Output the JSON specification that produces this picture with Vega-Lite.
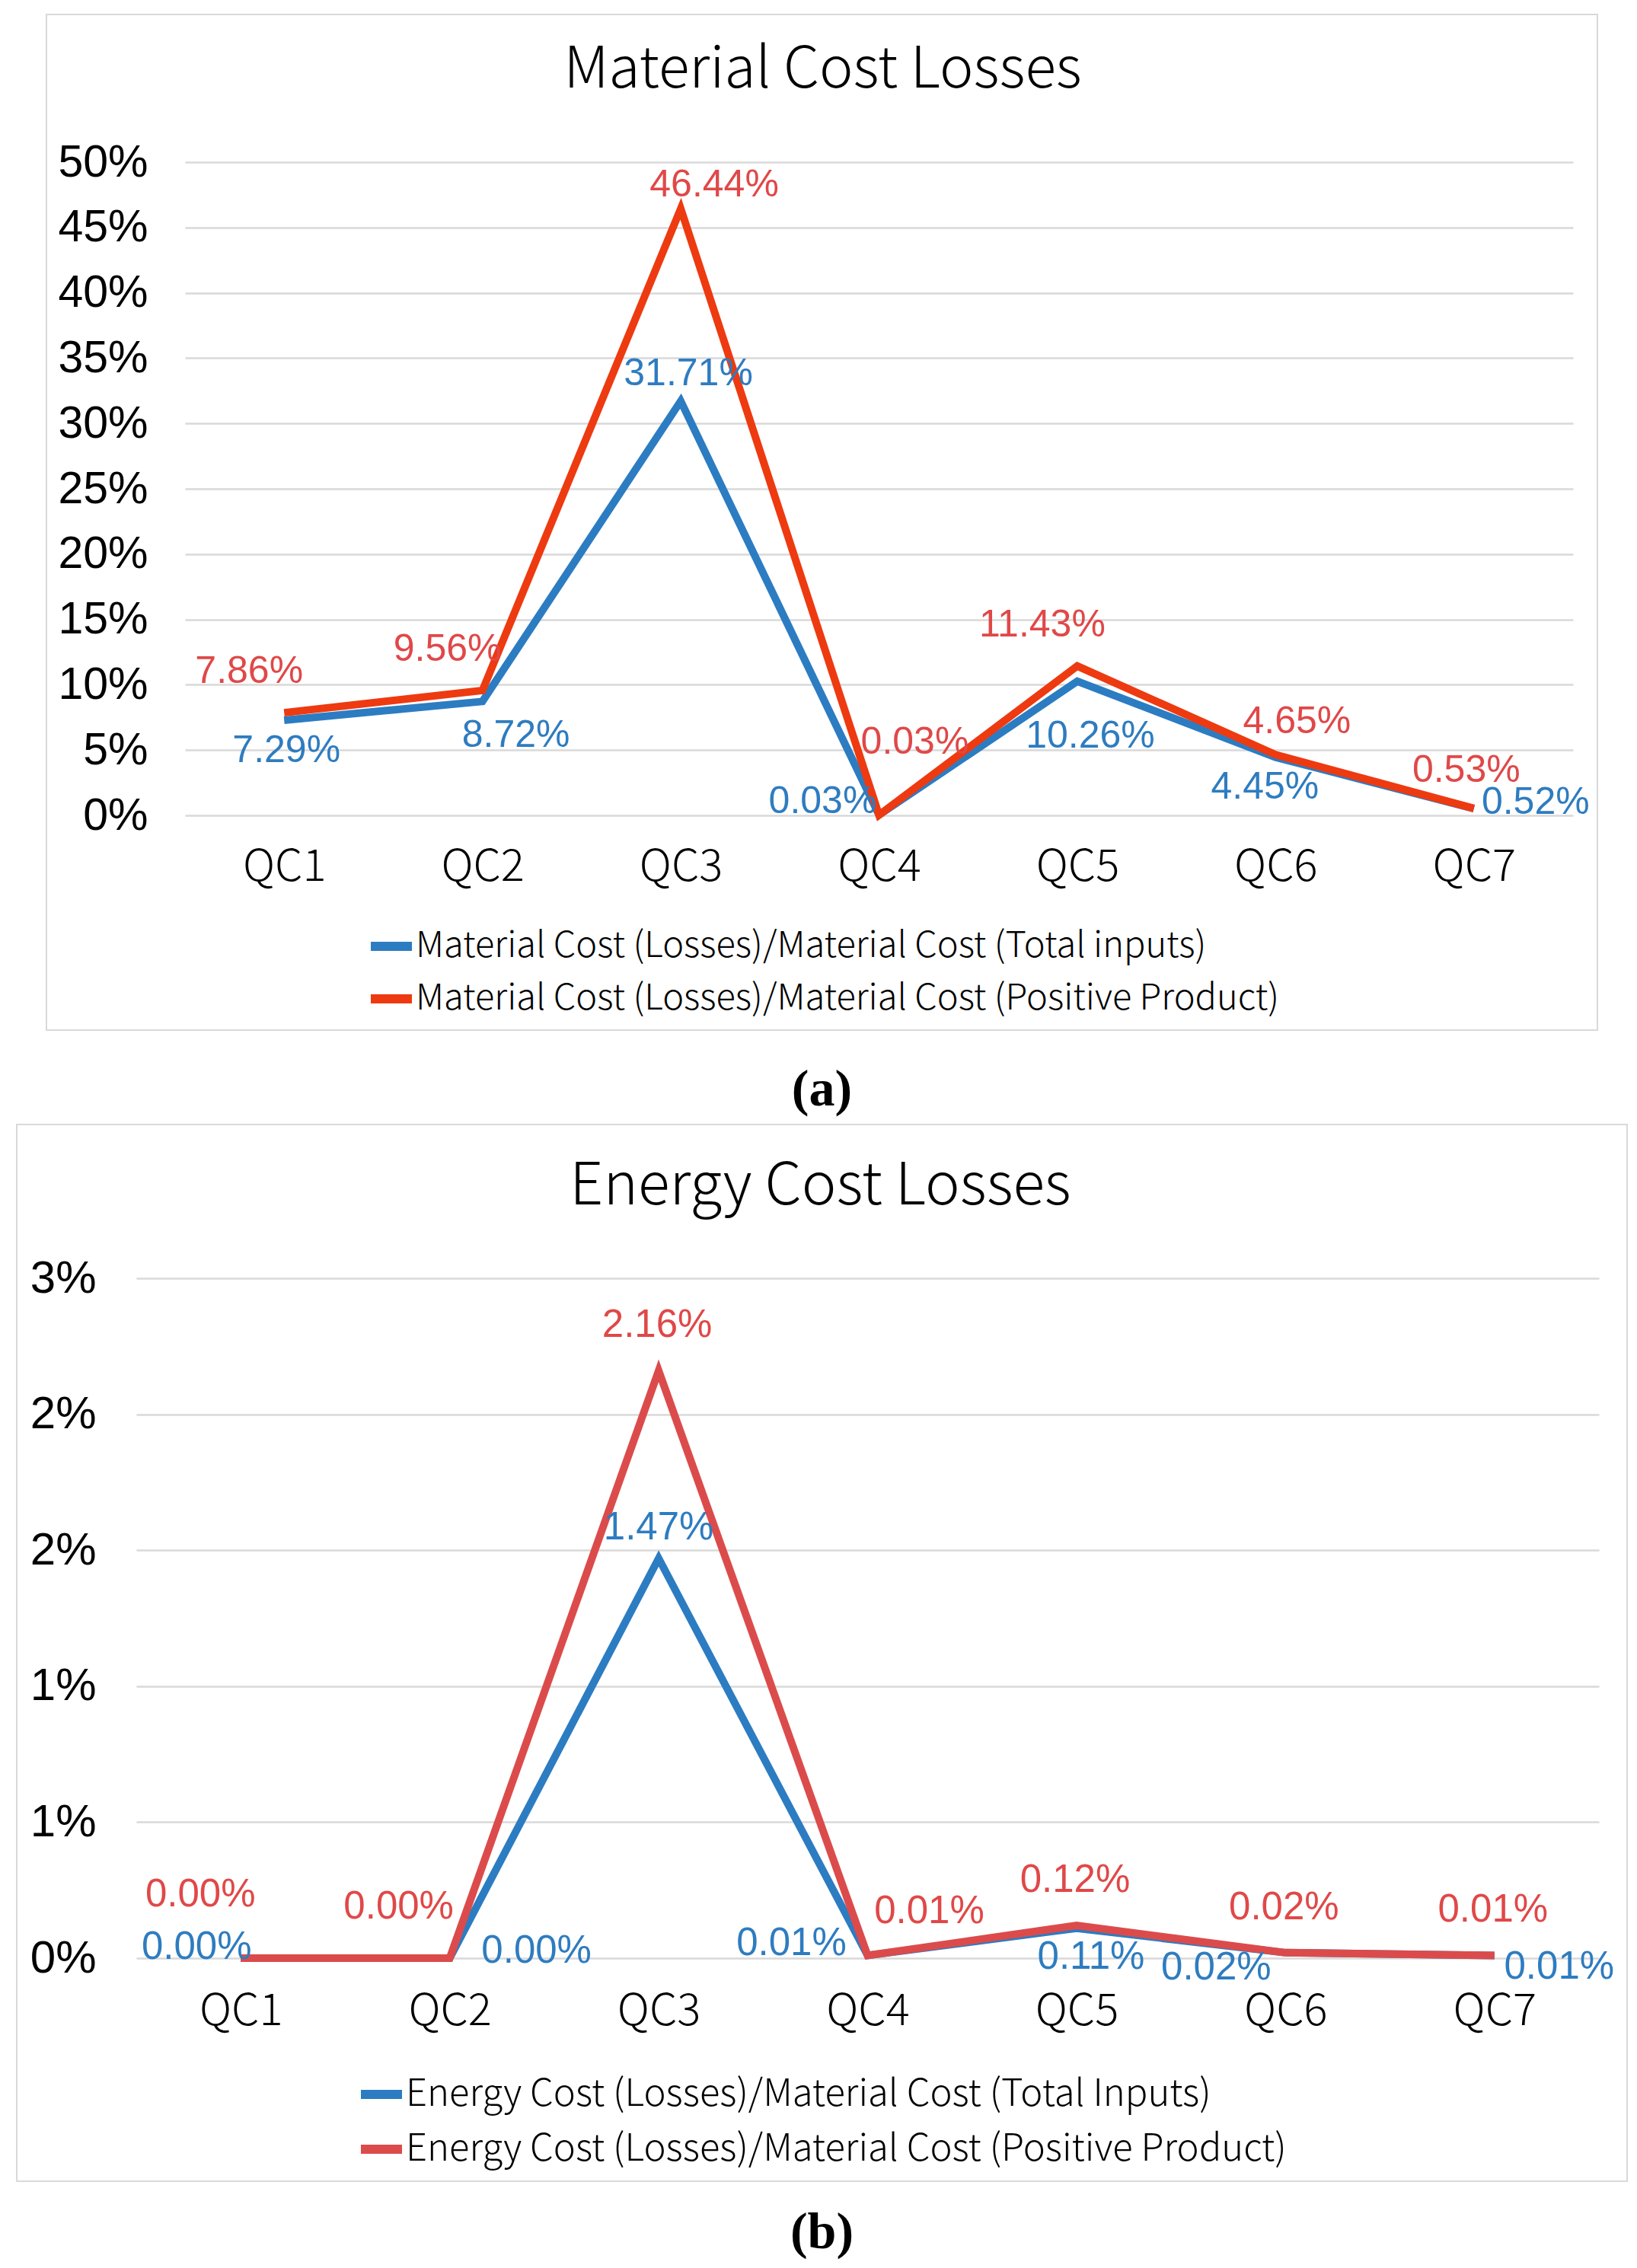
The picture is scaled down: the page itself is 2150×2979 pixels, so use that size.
{
  "$schema": "https://vega.github.io/schema/vega-lite/v6.json",
  "background": "white",
  "padding": {"left": 21, "top": 18, "right": 0, "bottom": 0},
  "config": {
    "view": {"stroke": "#D9D9D9", "strokeWidth": 2},
    "axis": {"domain": false, "ticks": false, "tickSize": 0, "gridColor": "#D9D9D9", "gridWidth": 2.5, "title": null, "labelColor": "#000000"}
  },
  "center": true,
  "spacing": 10,
  "resolve": {"scale": {"color": "independent"}, "legend": {"color": "independent"}},
  "vconcat": [
    {
      "title": {"text": "(a)", "orient": "bottom", "font": "Liberation Serif", "fontWeight": "bold", "fontSize": 68, "color": "#000000", "baseline": "middle", "offset": 78, "anchor": "middle"},
      "vconcat": [
        {
          "width": 2037,
          "height": 1334,
          "data": {"values": [
            {"qc": "QC1", "series": "Material Cost (Losses)/Material Cost (Total inputs)", "v": 0.0729},
            {"qc": "QC2", "series": "Material Cost (Losses)/Material Cost (Total inputs)", "v": 0.0872},
            {"qc": "QC3", "series": "Material Cost (Losses)/Material Cost (Total inputs)", "v": 0.3171},
            {"qc": "QC4", "series": "Material Cost (Losses)/Material Cost (Total inputs)", "v": 0.0003},
            {"qc": "QC5", "series": "Material Cost (Losses)/Material Cost (Total inputs)", "v": 0.1026},
            {"qc": "QC6", "series": "Material Cost (Losses)/Material Cost (Total inputs)", "v": 0.0445},
            {"qc": "QC7", "series": "Material Cost (Losses)/Material Cost (Total inputs)", "v": 0.0052},
            {"qc": "QC1", "series": "Material Cost (Losses)/Material Cost (Positive Product)", "v": 0.0786},
            {"qc": "QC2", "series": "Material Cost (Losses)/Material Cost (Positive Product)", "v": 0.0956},
            {"qc": "QC3", "series": "Material Cost (Losses)/Material Cost (Positive Product)", "v": 0.4644},
            {"qc": "QC4", "series": "Material Cost (Losses)/Material Cost (Positive Product)", "v": 0.0003},
            {"qc": "QC5", "series": "Material Cost (Losses)/Material Cost (Positive Product)", "v": 0.1143},
            {"qc": "QC6", "series": "Material Cost (Losses)/Material Cost (Positive Product)", "v": 0.0465},
            {"qc": "QC7", "series": "Material Cost (Losses)/Material Cost (Positive Product)", "v": 0.0053}
          ]},
          "encoding": {
            "x": {"field": "qc", "type": "ordinal", "title": "Material Cost Losses", "scale": {"type": "point", "range": [182, 2005], "padding": 0.5}, "axis": {"orient": "bottom", "offset": -282, "labelPadding": 68, "labelBaseline": "middle", "labelAngle": 0, "labelFont": "Noto Sans CJK SC", "labelFontWeight": 300, "labelFontSize": 58, "grid": false, "titleX": 1019, "titleY": -980, "titleAngle": 0, "titleAlign": "center", "titleBaseline": "middle", "titleFont": "Noto Sans CJK SC", "titleFontSize": 75, "titleFontWeight": 300, "titleColor": "#000000"}},
            "y": {"field": "v", "type": "quantitative", "scale": {"domain": [0, 0.5], "range": [1052, 194], "nice": false}, "axis": {"values": [0, 0.05, 0.1, 0.15, 0.2, 0.25, 0.3, 0.35, 0.4, 0.45, 0.5], "format": ".0%", "offset": -133, "labelPadding": 0, "labelFont": "Liberation Sans", "labelFontSize": 59, "grid": true}}
          },
          "layer": [
            {"mark": {"type": "line", "strokeWidth": 10}, "encoding": {"color": {"field": "series", "type": "nominal", "scale": {"domain": ["Material Cost (Losses)/Material Cost (Total inputs)", "Material Cost (Losses)/Material Cost (Positive Product)"], "range": ["#2C7CC2", "#EE3A10"]}, "legend": {"orient": "none", "direction": "vertical", "legendX": 420, "legendY": 1191, "title": null, "symbolType": "stroke", "symbolSize": 2916, "symbolStrokeWidth": 12, "labelFont": "Noto Sans CJK SC", "labelFontWeight": 300, "labelFontSize": 47, "labelColor": "#000000", "labelOffset": -1, "rowPadding": 12, "padding": 0, "labelLimit": 2000}}}},
            {"transform": [{"filter": "indexof(datum.series,'Positive')>=0 && indexof(['QC1','QC2','QC5'],datum.qc)>=0"}], "mark": {"type": "text", "dx": -46, "dy": -54, "color": "#E04848", "font": "Liberation Sans", "fontSize": 50}, "encoding": {"text": {"field": "v", "type": "quantitative", "format": ".2%"}}},
            {"transform": [{"filter": "indexof(datum.series,'Positive')>=0 && datum.qc=='QC3'"}], "mark": {"type": "text", "dx": 44, "dy": -31, "color": "#E04848", "font": "Liberation Sans", "fontSize": 50}, "encoding": {"text": {"field": "v", "type": "quantitative", "format": ".2%"}}},
            {"transform": [{"filter": "indexof(datum.series,'Positive')>=0 && datum.qc=='QC4'"}], "mark": {"type": "text", "dx": 47, "dy": -95, "color": "#E04848", "font": "Liberation Sans", "fontSize": 50}, "encoding": {"text": {"field": "v", "type": "quantitative", "format": ".2%"}}},
            {"transform": [{"filter": "indexof(datum.series,'Positive')>=0 && datum.qc=='QC6'"}], "mark": {"type": "text", "dx": 28, "dy": -43, "color": "#E04848", "font": "Liberation Sans", "fontSize": 50}, "encoding": {"text": {"field": "v", "type": "quantitative", "format": ".2%"}}},
            {"transform": [{"filter": "indexof(datum.series,'Positive')>=0 && datum.qc=='QC7'"}], "mark": {"type": "text", "dx": -10, "dy": -50, "color": "#E04848", "font": "Liberation Sans", "fontSize": 50}, "encoding": {"text": {"field": "v", "type": "quantitative", "format": ".2%"}}},
            {"transform": [{"filter": "indexof(datum.series,'Total')>=0 && datum.qc=='QC1'"}], "mark": {"type": "text", "dx": 3, "dy": 40, "color": "#2E7CC0", "font": "Liberation Sans", "fontSize": 50}, "encoding": {"text": {"field": "v", "type": "quantitative", "format": ".2%"}}},
            {"transform": [{"filter": "indexof(datum.series,'Total')>=0 && datum.qc=='QC2'"}], "mark": {"type": "text", "dx": 44, "dy": 45, "color": "#2E7CC0", "font": "Liberation Sans", "fontSize": 50}, "encoding": {"text": {"field": "v", "type": "quantitative", "format": ".2%"}}},
            {"transform": [{"filter": "indexof(datum.series,'Total')>=0 && datum.qc=='QC3'"}], "mark": {"type": "text", "dx": 10, "dy": -36, "color": "#2E7CC0", "font": "Liberation Sans", "fontSize": 50}, "encoding": {"text": {"field": "v", "type": "quantitative", "format": ".2%"}}},
            {"transform": [{"filter": "indexof(datum.series,'Total')>=0 && datum.qc=='QC4'"}], "mark": {"type": "text", "dx": -74, "dy": -17, "color": "#2E7CC0", "font": "Liberation Sans", "fontSize": 50}, "encoding": {"text": {"field": "v", "type": "quantitative", "format": ".2%"}}},
            {"transform": [{"filter": "indexof(datum.series,'Total')>=0 && datum.qc=='QC5'"}], "mark": {"type": "text", "dx": 17, "dy": 72, "color": "#2E7CC0", "font": "Liberation Sans", "fontSize": 50}, "encoding": {"text": {"field": "v", "type": "quantitative", "format": ".2%"}}},
            {"transform": [{"filter": "indexof(datum.series,'Total')>=0 && datum.qc=='QC6'"}], "mark": {"type": "text", "dx": -14, "dy": 39, "color": "#2E7CC0", "font": "Liberation Sans", "fontSize": 50}, "encoding": {"text": {"field": "v", "type": "quantitative", "format": ".2%"}}},
            {"transform": [{"filter": "indexof(datum.series,'Total')>=0 && datum.qc=='QC7'"}], "mark": {"type": "text", "dx": 81, "dy": -8, "color": "#2E7CC0", "font": "Liberation Sans", "fontSize": 50}, "encoding": {"text": {"field": "v", "type": "quantitative", "format": ".2%"}}}
          ]
        }
      ]
    },
    {
      "title": {"text": "(b)", "orient": "bottom", "font": "Liberation Serif", "fontWeight": "bold", "fontSize": 68, "color": "#000000", "baseline": "middle", "offset": 67, "anchor": "middle"},
      "vconcat": [
        {
          "width": 2115,
          "height": 1388,
          "data": {"values": [
            {"qc": "QC1", "series": "Energy Cost (Losses)/Material Cost (Total Inputs)", "v": 0},
            {"qc": "QC2", "series": "Energy Cost (Losses)/Material Cost (Total Inputs)", "v": 0},
            {"qc": "QC3", "series": "Energy Cost (Losses)/Material Cost (Total Inputs)", "v": 0.0147},
            {"qc": "QC4", "series": "Energy Cost (Losses)/Material Cost (Total Inputs)", "v": 0.0001},
            {"qc": "QC5", "series": "Energy Cost (Losses)/Material Cost (Total Inputs)", "v": 0.0011},
            {"qc": "QC6", "series": "Energy Cost (Losses)/Material Cost (Total Inputs)", "v": 0.0002},
            {"qc": "QC7", "series": "Energy Cost (Losses)/Material Cost (Total Inputs)", "v": 0.0001},
            {"qc": "QC1", "series": "Energy Cost (Losses)/Material Cost (Positive Product)", "v": 0},
            {"qc": "QC2", "series": "Energy Cost (Losses)/Material Cost (Positive Product)", "v": 0},
            {"qc": "QC3", "series": "Energy Cost (Losses)/Material Cost (Positive Product)", "v": 0.0216},
            {"qc": "QC4", "series": "Energy Cost (Losses)/Material Cost (Positive Product)", "v": 0.0001},
            {"qc": "QC5", "series": "Energy Cost (Losses)/Material Cost (Positive Product)", "v": 0.0012},
            {"qc": "QC6", "series": "Energy Cost (Losses)/Material Cost (Positive Product)", "v": 0.0002},
            {"qc": "QC7", "series": "Energy Cost (Losses)/Material Cost (Positive Product)", "v": 0.0001}
          ]},
          "encoding": {
            "x": {"field": "qc", "type": "ordinal", "title": "Energy Cost Losses", "scale": {"type": "point", "range": [157, 2078], "padding": 0.5}, "axis": {"orient": "bottom", "offset": -293, "labelPadding": 70, "labelBaseline": "middle", "labelAngle": 0, "labelFont": "Noto Sans CJK SC", "labelFontWeight": 300, "labelFontSize": 58, "grid": false, "titleX": 1055, "titleY": -1014, "titleAngle": 0, "titleAlign": "center", "titleBaseline": "middle", "titleFont": "Noto Sans CJK SC", "titleFontSize": 77, "titleFontWeight": 300, "titleColor": "#000000"}},
            "y": {"field": "v", "type": "quantitative", "scale": {"domain": [0, 0.025], "range": [1095, 202], "nice": false}, "axis": {"values": [0, 0.005, 0.01, 0.015, 0.02, 0.025], "labelExpr": "round(datum.value*100+0.001)+'%'", "offset": -104, "labelPadding": 0, "labelFont": "Liberation Sans", "labelFontSize": 60, "grid": true}}
          },
          "layer": [
            {"mark": {"type": "line", "strokeWidth": 10}, "encoding": {"color": {"field": "series", "type": "nominal", "scale": {"domain": ["Energy Cost (Losses)/Material Cost (Total Inputs)", "Energy Cost (Losses)/Material Cost (Positive Product)"], "range": ["#2C7CC2", "#DC4B4B"]}, "legend": {"orient": "none", "direction": "vertical", "legendX": 446, "legendY": 1241, "title": null, "symbolType": "stroke", "symbolSize": 2916, "symbolStrokeWidth": 12, "labelFont": "Noto Sans CJK SC", "labelFontWeight": 300, "labelFontSize": 49, "labelColor": "#000000", "labelOffset": -1, "rowPadding": 14, "padding": 0, "labelLimit": 2000}}}},
            {"transform": [{"filter": "indexof(datum.series,'Positive')>=0 && datum.qc=='QC1'"}], "mark": {"type": "text", "dx": -53, "dy": -83, "color": "#E04848", "font": "Liberation Sans", "fontSize": 51}, "encoding": {"text": {"field": "v", "type": "quantitative", "format": ".2%"}}},
            {"transform": [{"filter": "indexof(datum.series,'Positive')>=0 && datum.qc=='QC2'"}], "mark": {"type": "text", "dx": -67, "dy": -67, "color": "#E04848", "font": "Liberation Sans", "fontSize": 51}, "encoding": {"text": {"field": "v", "type": "quantitative", "format": ".2%"}}},
            {"transform": [{"filter": "indexof(datum.series,'Positive')>=0 && indexof(['QC3','QC5','QC6','QC7'],datum.qc)>=0"}], "mark": {"type": "text", "dx": -2, "dy": -59, "color": "#E04848", "font": "Liberation Sans", "fontSize": 51}, "encoding": {"text": {"field": "v", "type": "quantitative", "format": ".2%"}}},
            {"transform": [{"filter": "indexof(datum.series,'Positive')>=0 && datum.qc=='QC4'"}], "mark": {"type": "text", "dx": 81, "dy": -57, "color": "#E04848", "font": "Liberation Sans", "fontSize": 51}, "encoding": {"text": {"field": "v", "type": "quantitative", "format": ".2%"}}},
            {"transform": [{"filter": "indexof(datum.series,'Total')>=0 && datum.qc=='QC1'"}], "mark": {"type": "text", "dx": -58, "dy": -14, "color": "#2E7CC0", "font": "Liberation Sans", "fontSize": 51}, "encoding": {"text": {"field": "v", "type": "quantitative", "format": ".2%"}}},
            {"transform": [{"filter": "indexof(datum.series,'Total')>=0 && datum.qc=='QC2'"}], "mark": {"type": "text", "dx": 114, "dy": -9, "color": "#2E7CC0", "font": "Liberation Sans", "fontSize": 51}, "encoding": {"text": {"field": "v", "type": "quantitative", "format": ".2%"}}},
            {"transform": [{"filter": "indexof(datum.series,'Total')>=0 && datum.qc=='QC3'"}], "mark": {"type": "text", "dx": 0, "dy": -40, "color": "#2E7CC0", "font": "Liberation Sans", "fontSize": 51}, "encoding": {"text": {"field": "v", "type": "quantitative", "format": ".2%"}}},
            {"transform": [{"filter": "indexof(datum.series,'Total')>=0 && datum.qc=='QC4'"}], "mark": {"type": "text", "dx": -100, "dy": -15, "color": "#2E7CC0", "font": "Liberation Sans", "fontSize": 51}, "encoding": {"text": {"field": "v", "type": "quantitative", "format": ".2%"}}},
            {"transform": [{"filter": "indexof(datum.series,'Total')>=0 && datum.qc=='QC5'"}], "mark": {"type": "text", "dx": 19, "dy": 38, "color": "#2E7CC0", "font": "Liberation Sans", "fontSize": 51}, "encoding": {"text": {"field": "v", "type": "quantitative", "format": ".2%"}}},
            {"transform": [{"filter": "indexof(datum.series,'Total')>=0 && datum.qc=='QC6'"}], "mark": {"type": "text", "dx": -91, "dy": 20, "color": "#2E7CC0", "font": "Liberation Sans", "fontSize": 51}, "encoding": {"text": {"field": "v", "type": "quantitative", "format": ".2%"}}},
            {"transform": [{"filter": "indexof(datum.series,'Total')>=0 && datum.qc=='QC7'"}], "mark": {"type": "text", "dx": 85, "dy": 16, "color": "#2E7CC0", "font": "Liberation Sans", "fontSize": 51}, "encoding": {"text": {"field": "v", "type": "quantitative", "format": ".2%"}}}
          ]
        }
      ]
    }
  ]
}
